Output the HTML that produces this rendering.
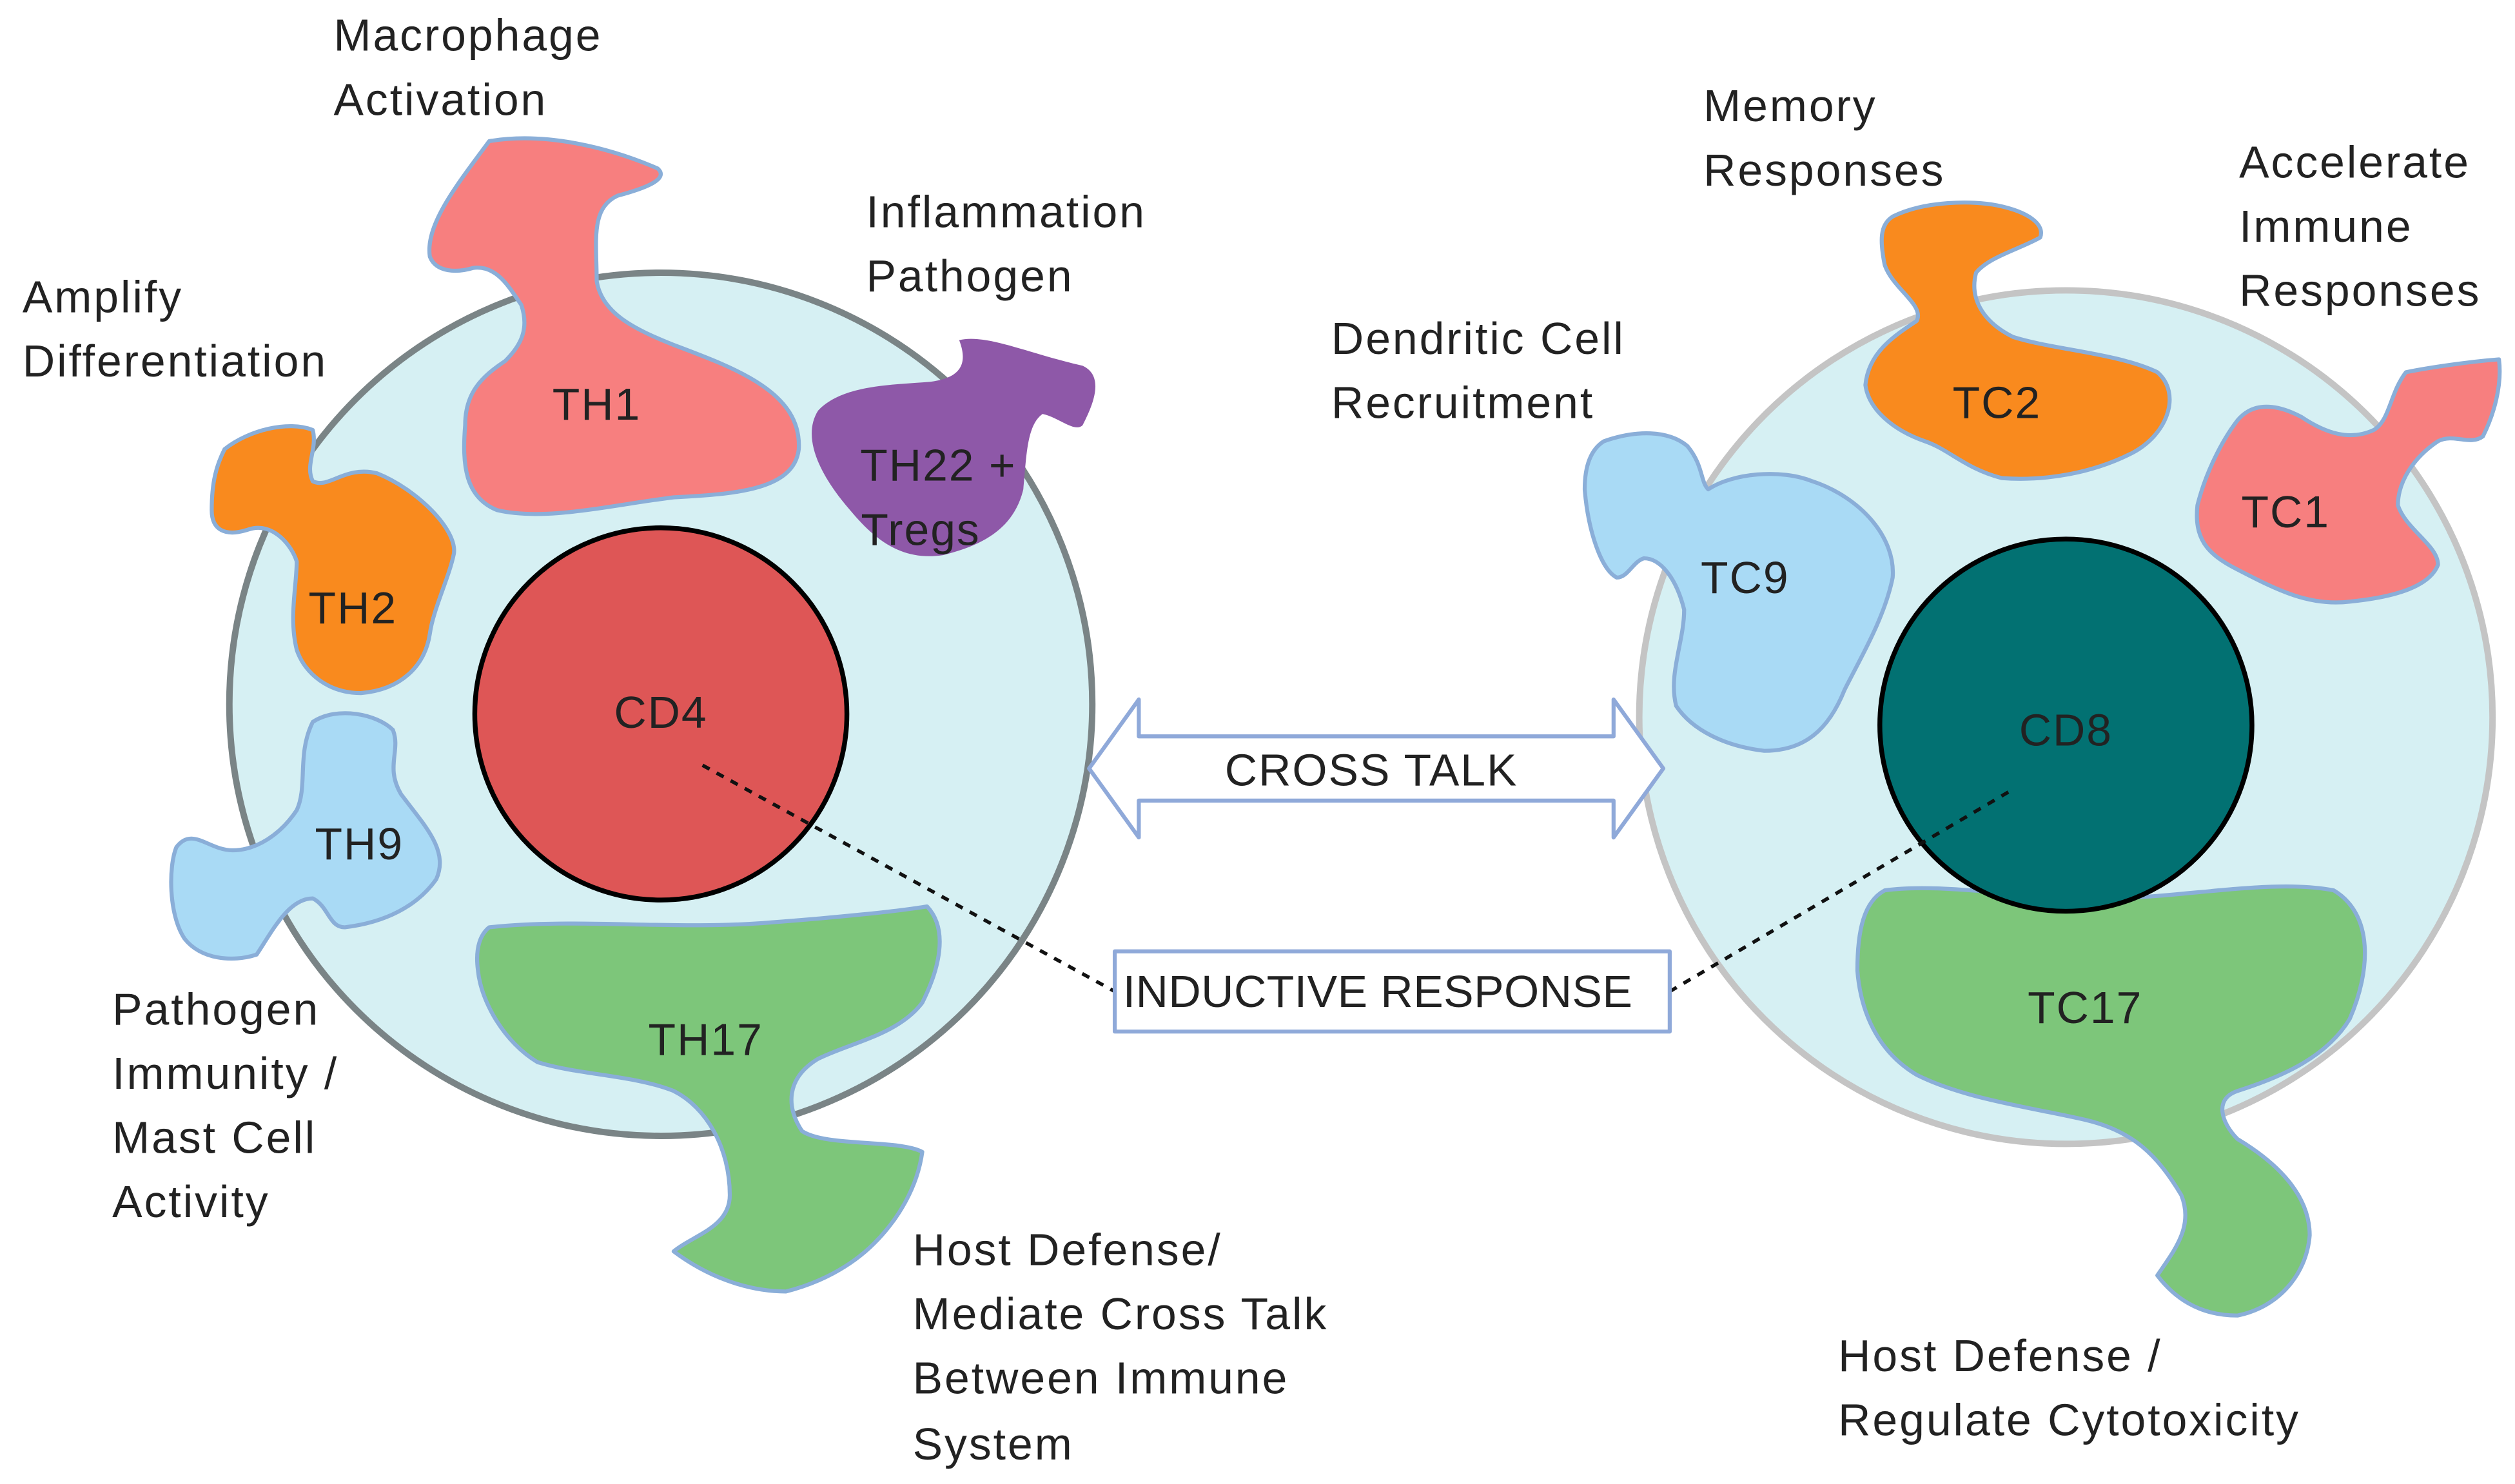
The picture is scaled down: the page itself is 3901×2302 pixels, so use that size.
<!DOCTYPE html>
<html><head><meta charset="utf-8"><style>
html,body{margin:0;padding:0;background:#fff}
svg{display:block}
text{font-family:"Liberation Sans",sans-serif;fill:#222}
</style></head><body>
<svg width="3901" height="2302" viewBox="0 0 1568 925" preserveAspectRatio="none" xmlns="http://www.w3.org/2000/svg">
<g stroke-linejoin="round">
<circle cx="412" cy="439" r="269" fill="#d6f0f3" stroke="#7a8486" stroke-width="4"/>
<circle cx="1288" cy="447" r="266" fill="#d6f0f3" stroke="#c4c4c4" stroke-width="4"/>

<path d="M305,88 C340,82 380,92 410,105 C418,112 400,118 385,122 C368,130 372,150 372,175 C375,195 395,205 420,215 C460,230 500,245 498,280 C495,305 460,308 420,310 C380,315 340,325 310,318 C290,310 288,290 290,265 C290,245 300,235 315,225 C325,215 330,205 325,190 C318,180 310,165 295,167 C285,170 272,170 268,160 C265,140 285,115 305,88 Z" fill="#f77f7f" stroke="#8aaed8" stroke-width="2.5"/>
<path d="M598,212 C615,208 640,220 675,228 C690,235 680,255 675,265 C670,270 660,260 650,258 C640,265 640,285 638,305 C632,330 612,340 588,346 C562,350 545,336 530,318 C510,295 500,272 510,256 C525,240 555,240 580,238 C595,236 605,230 598,212 Z" fill="#8e58a8"/>
<path d="M140,280 C155,268 180,262 195,268 C198,280 190,290 195,300 C205,305 215,290 235,295 C260,305 285,330 283,345 C280,360 270,380 268,395 C265,415 250,430 225,432 C205,432 190,420 185,405 C180,385 185,365 185,350 C182,340 170,325 155,330 C140,335 132,330 132,318 C132,300 135,290 140,280 Z" fill="#f98a1e" stroke="#8aaed8" stroke-width="2.5"/>
<path d="M195,450 C210,440 235,445 245,455 C250,468 240,478 250,495 C265,515 280,530 272,548 C260,565 240,575 215,578 C205,578 205,565 195,560 C180,560 170,580 160,595 C145,600 125,598 115,585 C105,570 105,540 110,528 C120,515 130,530 145,530 C160,530 175,520 185,505 C192,490 185,470 195,450 Z" fill="#a9daf5" stroke="#8aaed8" stroke-width="2.5"/>
<path d="M305,578 C360,572 420,580 480,575 C520,572 560,568 578,565 C592,580 585,605 575,625 C560,645 530,650 510,660 C490,672 490,690 500,705 C515,715 560,710 575,718 C572,740 560,760 545,775 C530,790 510,800 490,805 C465,805 440,795 420,780 C432,770 455,765 455,745 C455,715 440,690 420,680 C395,670 360,670 335,662 C315,650 300,625 298,605 C296,590 300,582 305,578 Z" fill="#7dc67a" stroke="#8aaed8" stroke-width="2.5"/>
<circle cx="412" cy="445" r="116" fill="#de5656" stroke="#000" stroke-width="3"/>

<path d="M1180,135 C1200,125 1230,125 1245,128 C1265,132 1275,140 1272,148 C1260,155 1240,160 1232,170 C1228,185 1235,200 1255,210 C1280,218 1320,220 1345,232 C1360,245 1352,270 1330,282 C1305,295 1275,300 1248,298 C1225,292 1215,280 1200,275 C1180,268 1165,255 1163,240 C1165,220 1180,210 1195,200 C1200,190 1180,180 1175,165 C1172,150 1172,140 1180,135 Z" fill="#f98a1e" stroke="#8aaed8" stroke-width="2.5"/>
<path d="M1500,232 C1520,228 1545,225 1558,224 C1560,240 1555,258 1548,272 C1540,278 1530,270 1520,275 C1505,285 1495,300 1495,315 C1500,330 1520,340 1520,352 C1515,365 1495,372 1465,375 C1440,378 1420,368 1395,355 C1375,345 1368,335 1370,315 C1375,295 1385,275 1395,262 C1405,250 1420,252 1435,260 C1450,270 1465,275 1480,268 C1490,262 1490,245 1500,232 Z" fill="#f77f7f" stroke="#8aaed8" stroke-width="2.5"/>
<path d="M1000,275 C1020,268 1040,268 1052,278 C1062,290 1060,300 1065,305 C1080,295 1110,292 1130,300 C1160,310 1182,335 1180,360 C1175,385 1160,410 1150,430 C1140,455 1125,468 1100,468 C1075,465 1055,455 1045,440 C1040,420 1050,400 1050,380 C1045,360 1035,348 1025,348 C1018,350 1015,360 1008,360 C998,355 990,330 988,305 C988,290 992,280 1000,275 Z" fill="#a9daf5" stroke="#8aaed8" stroke-width="2.5"/>
<path d="M1175,555 C1210,550 1260,560 1320,560 C1370,558 1420,548 1455,555 C1480,570 1478,605 1465,635 C1450,660 1420,672 1395,680 C1380,685 1385,700 1395,710 C1420,725 1440,745 1440,770 C1438,795 1420,815 1395,820 C1370,820 1355,808 1345,795 C1355,780 1368,765 1360,745 C1345,720 1330,705 1300,698 C1265,690 1225,685 1195,670 C1170,655 1160,630 1158,605 C1158,580 1162,562 1175,555 Z" fill="#7dc67a" stroke="#8aaed8" stroke-width="2.5"/>
<circle cx="1288" cy="452" r="116" fill="#027172" stroke="#000" stroke-width="3"/>

<path d="M679,479 L710,436 L710,459 L1006,459 L1006,436 L1037,479 L1006,522 L1006,499 L710,499 L710,522 Z" fill="#fff" stroke="#8fa9d9" stroke-width="2.5"/>
<line x1="438" y1="477" x2="695" y2="618" stroke="#111" stroke-width="2.2" stroke-dasharray="5,5"/>
<line x1="1041" y1="618" x2="1255" y2="492" stroke="#111" stroke-width="2.2" stroke-dasharray="5,5"/>
<rect x="695" y="593" width="346" height="50" fill="#fff" stroke="#8fa9d9" stroke-width="2.5"/>
</g>

<g font-size="28" dominant-baseline="central" text-anchor="middle" letter-spacing="0.8">
<text x="372" y="252">TH1</text>
<text x="220" y="379">TH2</text>
<text x="224" y="526">TH9</text>
<text x="440" y="648">TH17</text>
<text x="585" y="290">TH22 +</text>
<text x="574" y="330">Tregs</text>
<text x="412" y="444">CD4</text>
<text x="1288" y="455">CD8</text>
<text x="1245" y="251">TC2</text>
<text x="1425" y="319">TC1</text>
<text x="1088" y="360">TC9</text>
<text x="1300" y="628">TC17</text>
<text x="855" y="480">CROSS TALK</text>
<text x="859" y="618" letter-spacing="0.2">INDUCTIVE RESPONSE</text>
</g>
<g font-size="28" dominant-baseline="central" letter-spacing="1.2">
<text x="208" y="22">Macrophage</text><text x="208" y="62">Activation</text>
<text x="14" y="185">Amplify</text><text x="14" y="225">Differentiation</text>
<text x="540" y="132">Inflammation</text><text x="540" y="172">Pathogen</text>
<text x="70" y="629">Pathogen</text><text x="70" y="669">Immunity /</text><text x="70" y="709">Mast Cell</text><text x="70" y="749">Activity</text>
<text x="569" y="779">Host Defense/</text><text x="569" y="819">Mediate Cross Talk</text><text x="569" y="859">Between Immune</text><text x="569" y="900">System</text>
<text x="830" y="211">Dendritic Cell</text><text x="830" y="251">Recruitment</text>
<text x="1062" y="66">Memory</text><text x="1062" y="106">Responses</text>
<text x="1396" y="101">Accelerate</text><text x="1396" y="141">Immune</text><text x="1396" y="181">Responses</text>
<text x="1146" y="845">Host Defense /</text><text x="1146" y="885">Regulate Cytotoxicity</text>
</g>
</svg>
</body></html>
